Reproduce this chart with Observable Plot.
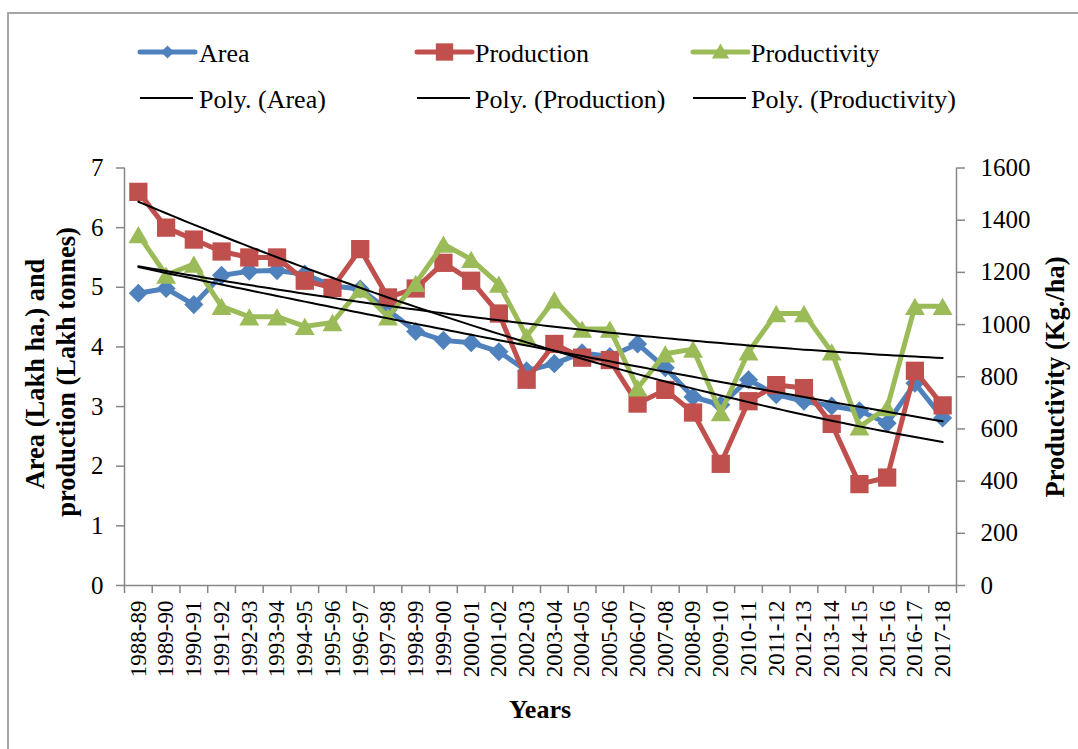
<!DOCTYPE html>
<html>
<head>
<meta charset="utf-8">
<script src="https://cdn.jsdelivr.net/npm/d3@7"></script>
<script src="https://cdn.jsdelivr.net/npm/@observablehq/plot@0.6"></script>
<style>
  html, body { margin: 0; padding: 0; background: #fff; }
  #wrap { position: relative; width: 1078px; height: 749px; overflow: hidden; background: #fff; }
  #frame { position: absolute; left: 7px; top: 12px; width: 1100px; height: 800px;
           border-left: 2px solid #a6a6a6; border-top: 2px solid #a6a6a6; box-sizing: border-box; }
  #chart { position: absolute; left: 0; top: 0; }
  #chart svg, #chart svg text { font-family: "Liberation Serif", "Times New Roman", serif !important; }
  #overlay { position: absolute; left: 0; top: 0; pointer-events: none; }
  #overlay text { font-family: "Liberation Serif", "Times New Roman", serif; fill: #000; }
</style>
</head>
<body>
<div id="wrap">
  <div id="frame"></div>
  <div id="chart"></div>
  <svg id="overlay" width="1078" height="749"></svg>
</div>
<script>
// ---------------- data ----------------
const years = ["1988-89","1989-90","1990-91","1991-92","1992-93","1993-94","1994-95","1995-96",
  "1996-97","1997-98","1998-99","1999-00","2000-01","2001-02","2002-03","2003-04","2004-05",
  "2005-06","2006-07","2007-08","2008-09","2009-10","2010-11","2011-12","2012-13","2013-14",
  "2014-15","2015-16","2016-17","2017-18"];
const area = [4.90, 4.98, 4.71, 5.20, 5.27, 5.28, 5.22, 5.02, 4.97, 4.62, 4.26, 4.11, 4.07, 3.92, 3.60,
  3.72, 3.90, 3.84, 4.05, 3.65, 3.16, 3.03, 3.45, 3.20, 3.09, 3.01, 2.93, 2.72, 3.39, 2.81];
const production = [6.60, 6.00, 5.80, 5.60, 5.50, 5.50, 5.11, 4.99, 5.64, 4.83, 4.98, 5.41, 5.11, 4.56, 3.45,
  4.05, 3.82, 3.78, 3.05, 3.28, 2.90, 2.04, 3.09, 3.36, 3.31, 2.71, 1.70, 1.81, 3.60, 3.02];
const productivity = [1345, 1190, 1232, 1070, 1030, 1030, 993, 1008, 1136, 1030, 1158, 1308, 1250, 1155, 955,
  1095, 983, 983, 757, 888, 906, 663, 895, 1042, 1042, 895, 608, 682, 1070, 1070];
const leftTicks = [0, 1, 2, 3, 4, 5, 6, 7];
const rightTicks = [0, 200, 400, 600, 800, 1000, 1200, 1400, 1600];
const seriesNames = ["Area", "Production", "Productivity"];
const trendNames = ["Poly. (Area)", "Poly. (Production)", "Poly. (Productivity)"];
const colors = ["#4F81BD", "#C0504D", "#9BBB59"];

// ---------------- helpers ----------------
const LEFT_MAX = 7, RIGHT_MAX = 1600;
const k = LEFT_MAX / RIGHT_MAX; // secondary axis -> primary scale

function quadFit(ys) {
  const S = [0, 0, 0, 0, 0], T = [0, 0, 0];
  ys.forEach((y, i) => { let p = 1; for (let j = 0; j < 5; j++) { S[j] += p; if (j < 3) T[j] += p * y; p *= i; } });
  const A = [[S[0], S[1], S[2], T[0]], [S[1], S[2], S[3], T[1]], [S[2], S[3], S[4], T[2]]];
  for (let c = 0; c < 3; c++) {
    for (let r = c + 1; r < 3; r++) {
      const f = A[r][c] / A[c][c];
      for (let q = c; q < 4; q++) A[r][q] -= f * A[c][q];
    }
  }
  const b = [0, 0, 0];
  for (let r = 2; r >= 0; r--) {
    let s = A[r][3];
    for (let q = r + 1; q < 3; q++) s -= A[r][q] * b[q];
    b[r] = s / A[r][r];
  }
  return x => b[0] + b[1] * x + b[2] * x * x;
}

const idx = years.map((_, i) => i);
const rows = (vals, scale) => vals.map((v, i) => ({ i, v: v * scale }));
const areaRows = rows(area, 1);
const prodRows = rows(production, 1);
const prdvRows = rows(productivity, k);

const fine = d3.range(0, years.length - 1 + 1e-9, 0.25);
const fitRows = (vals, scale) => { const f = quadFit(vals); return fine.map(t => ({ i: t, v: f(t) * scale })); };
const areaFit = fitRows(area, 1);
const prodFit = fitRows(production, 1);
const prdvFit = fitRows(productivity, k);

const boundaries = d3.range(-0.5, years.length, 1);
const axisGray = "#868686";

const chart = Plot.plot({
  width: 1078,
  height: 749,
  marginTop: 167.5,
  marginBottom: 164,
  marginLeft: 124,
  marginRight: 122,
  x: { type: "linear", domain: [-0.5, years.length - 0.5] },
  y: { domain: [0, LEFT_MAX] },
  style: { fontFamily: "Liberation Serif", color: "black", background: "transparent", overflow: "visible" },
  marks: [
    // axes
    Plot.axisY({ anchor: "left", ticks: leftTicks, tickFormat: d => String(d), tickSize: 8, tickPadding: 13, fontSize: 25, label: null, stroke: axisGray, strokeWidth: 1.5 }),
    Plot.axisY({ anchor: "right", ticks: rightTicks.map(t => t * k), tickFormat: d => String(Math.round(d / k)),
                 tickSize: 8, tickPadding: 16, fontSize: 25, label: null, stroke: axisGray, strokeWidth: 1.5 }),
    Plot.axisX({ ticks: boundaries, tickFormat: () => "", tickSize: 8, label: null, stroke: axisGray, strokeWidth: 1.5 }),
    Plot.axisX({ ticks: idx, tickFormat: i => years[i], tickSize: 0, tickPadding: 15, tickRotate: -90, fontSize: 23, label: null }),
    Plot.ruleY([0], { stroke: axisGray, strokeWidth: 1.5 }),
    Plot.ruleX([-0.5, years.length - 0.5], { stroke: axisGray, strokeWidth: 1.5 }),
    // Area
    Plot.line(areaRows, { x: "i", y: "v", stroke: colors[0], strokeWidth: 5 }),
    Plot.dot(areaRows, { x: "i", y: "v", symbol: "diamond2", r: 8.6, fill: colors[0], stroke: "none" }),
    // Production
    Plot.line(prodRows, { x: "i", y: "v", stroke: colors[1], strokeWidth: 5 }),
    Plot.dot(prodRows, { x: "i", y: "v", symbol: "square", r: 10.3, fill: colors[1], stroke: "none" }),
    // Productivity (secondary axis)
    Plot.line(prdvRows, { x: "i", y: "v", stroke: colors[2], strokeWidth: 5 }),
    Plot.dot(prdvRows, { x: "i", y: "v", symbol: "triangle", r: 7.4, dy: 2.9, fill: colors[2], stroke: "none" }),
    // polynomial trend lines
    Plot.line(areaFit, { x: "i", y: "v", stroke: "black", strokeWidth: 2 }),
    Plot.line(prodFit, { x: "i", y: "v", stroke: "black", strokeWidth: 2 }),
    Plot.line(prdvFit, { x: "i", y: "v", stroke: "black", strokeWidth: 2 })
  ]
});
document.getElementById("chart").appendChild(chart);

// ---------------- legend & axis titles ----------------
const ov = d3.select("#overlay");
const legendX = [140, 417, 693];
const textX = [199, 475, 751];
const row1 = 52, row2 = 98;
const sym = [d3.symbolDiamond2, d3.symbolSquare, d3.symbolTriangle];
const symSize = [110, 300, 130];
seriesNames.forEach((name, j) => {
  ov.append("line").attr("x1", legendX[j]).attr("x2", legendX[j] + 55).attr("y1", row1).attr("y2", row1)
    .attr("stroke", colors[j]).attr("stroke-width", 5).attr("stroke-linecap", "round");
  ov.append("path").attr("d", d3.symbol(sym[j], symSize[j])())
    .attr("transform", `translate(${legendX[j] + 27.5},${row1 + (j === 2 ? 1.5 : 0)})`).attr("fill", colors[j]);
  ov.append("text").attr("x", textX[j]).attr("y", row1 + 9.5).attr("font-size", 26).text(name);
  ov.append("line").attr("x1", legendX[j]).attr("x2", legendX[j] + 53).attr("y1", row2).attr("y2", row2)
    .attr("stroke", "black").attr("stroke-width", 2);
  ov.append("text").attr("x", textX[j]).attr("y", row2 + 9.5).attr("font-size", 26).text(trendNames[j]);
});
const titleFont = 26.5;
ov.append("text").attr("transform", "translate(43.5,374) rotate(-90)").attr("text-anchor", "middle")
  .attr("font-size", titleFont).attr("font-weight", "bold").text("Area (Lakh ha.) and");
ov.append("text").attr("transform", "translate(75,372) rotate(-90)").attr("text-anchor", "middle")
  .attr("font-size", titleFont).attr("font-weight", "bold").text("production (Lakh tonnes)");
ov.append("text").attr("transform", "translate(1064,377) rotate(-90)").attr("text-anchor", "middle")
  .attr("font-size", titleFont).attr("font-weight", "bold").text("Productivity (Kg./ha)");
ov.append("text").attr("x", 540).attr("y", 718).attr("text-anchor", "middle")
  .attr("font-size", 26).attr("font-weight", "bold").text("Years");
</script>
</body>
</html>
